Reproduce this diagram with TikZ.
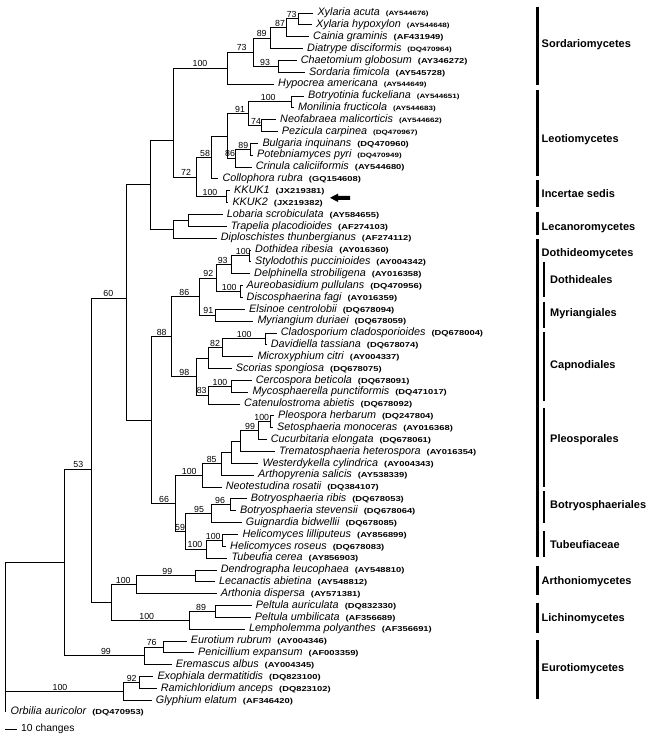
\documentclass[tikz,border=0pt]{standalone}
\usepackage{fontspec}
\setmainfont{Liberation Sans}
\newfontfamily\accfont{Liberation Sans}[FakeStretch=1.3]
\usetikzlibrary{positioning}
\newcommand\accno[1]{{\upshape\accfont\bfseries\fontsize{7.2}{8}\selectfont#1}}
\newcommand\accsm[1]{{\upshape\accfont\bfseries\fontsize{6.2}{7}\selectfont#1}}

\begin{document}
\begin{tikzpicture}[x=1pt,y=-1pt,
  br/.style={line width=0.9pt},
  leaf/.style={anchor=west,inner xsep=4pt,inner ysep=0pt,text height=8pt,text depth=2.5pt,font=\fontsize{10.8}{12}\selectfont\itshape},
  bs/.style={anchor=south,inner xsep=0pt,inner ysep=1pt,font=\fontsize{8.8}{10}\selectfont},
  grp/.style={line width=2.6pt},
  cls/.style={anchor=west,inner sep=0pt,font=\fontsize{11}{12}\selectfont\bfseries}]
\useasboundingbox (0,0) rectangle (651,739);

% leaves
\node[leaf] (l1) at (313.3,13) {Xylaria acuta\hspace{6pt}\accsm{(AY544676)}};
\node[leaf] (l2) at (312,24.85) {Xylaria hypoxylon\hspace{6pt}\accsm{(AY544648)}};
\node[leaf] (l3) at (309,36.7) {Cainia graminis\hspace{6pt}\accno{(AF431949)}};
\node[leaf] (l4) at (303,48.55) {Diatrype disciformis\hspace{6pt}\accsm{(DQ470964)}};
\node[leaf] (l5) at (296.7,60.4) {Chaetomium globosum\hspace{6pt}\accno{(AY346272)}};
\node[leaf] (l6) at (305,72.25) {Sordaria fimicola\hspace{6pt}\accno{(AY545728)}};
\node[leaf] (l7) at (274,84.1) {Hypocrea americana\hspace{6pt}\accsm{(AY544649)}};
\node[leaf] (l8) at (304,95.95) {Botryotinia fuckeliana\hspace{6pt}\accsm{(AY544651)}};
\node[leaf] (l9) at (294,107.8) {Monilinia fructicola\hspace{6pt}\accsm{(AY544683)}};
\node[leaf] (l10) at (276,119.65) {Neofabraea malicorticis\hspace{6pt}\accsm{(AY544662)}};
\node[leaf] (l11) at (277.7,131.5) {Pezicula carpinea\hspace{6pt}\accsm{(DQ470967)}};
\node[leaf] (l12) at (258.3,143.35) {Bulgaria inquinans\hspace{6pt}\accno{(DQ470960)}};
\node[leaf] (l13) at (253,155.2) {Potebniamyces pyri\hspace{6pt}\accsm{(DQ470949)}};
\node[leaf] (l14) at (251.7,167.05) {Crinula caliciiformis\hspace{6pt}\accno{(AY544680)}};
\node[leaf] (l15) at (218.3,178.9) {Collophora rubra\hspace{6pt}\accno{(GQ154608)}};
\node[leaf] (l16) at (230,190.75) {KKUK1\hspace{6pt}\accno{(JX219381)}};
\node[leaf] (l17) at (228.3,202.6) {KKUK2\hspace{6pt}\accno{(JX219382)}};
\node[leaf] (l18) at (222.7,214.45) {Lobaria scrobiculata\hspace{6pt}\accno{(AY584655)}};
\node[leaf] (l19) at (226.7,226.3) {Trapelia placodioides\hspace{6pt}\accno{(AF274103)}};
\node[leaf] (l20) at (216.7,238.15) {Diploschistes thunbergianus\hspace{6pt}\accno{(AF274112)}};
\node[leaf] (l21) at (251,250) {Dothidea ribesia\hspace{6pt}\accno{(AY016360)}};
\node[leaf] (l22) at (251,261.85) {Stylodothis puccinioides\hspace{6pt}\accno{(AY004342)}};
\node[leaf] (l23) at (250,273.7) {Delphinella strobiligena\hspace{6pt}\accno{(AY016358)}};
\node[leaf] (l24) at (242.5,285.55) {Aureobasidium pullulans\hspace{6pt}\accno{(DQ470956)}};
\node[leaf] (l25) at (242.5,297.4) {Discosphaerina fagi\hspace{6pt}\accno{(AY016359)}};
\node[leaf] (l26) at (245,309.25) {Elsinoe centrolobii\hspace{6pt}\accno{(DQ678094)}};
\node[leaf] (l27) at (253.3,321.1) {Myriangium duriaei\hspace{6pt}\accno{(DQ678059)}};
\node[leaf] (l28) at (276.7,332.95) {Cladosporium cladosporioides\hspace{6pt}\accno{(DQ678004)}};
\node[leaf] (l29) at (266.7,344.8) {Davidiella tassiana\hspace{6pt}\accno{(DQ678074)}};
\node[leaf] (l30) at (253.3,356.65) {Microxyphium citri\hspace{6pt}\accno{(AY004337)}};
\node[leaf] (l31) at (231.7,368.5) {Scorias spongiosa\hspace{6pt}\accno{(DQ678075)}};
\node[leaf] (l32) at (251.7,380.35) {Cercospora beticola\hspace{6pt}\accno{(DQ678091)}};
\node[leaf] (l33) at (248.3,392.2) {Mycosphaerella punctiformis\hspace{6pt}\accno{(DQ471017)}};
\node[leaf] (l34) at (240,404.05) {Catenulostroma abietis\hspace{6pt}\accno{(DQ678092)}};
\node[leaf] (l35) at (274,415.9) {Pleospora herbarum\hspace{6pt}\accno{(DQ247804)}};
\node[leaf] (l36) at (273,427.75) {Setosphaeria monoceras\hspace{6pt}\accno{(AY016368)}};
\node[leaf] (l37) at (266.7,439.6) {Cucurbitaria elongata\hspace{6pt}\accno{(DQ678061)}};
\node[leaf] (l38) at (275,451.45) {Trematosphaeria heterospora\hspace{6pt}\accno{(AY016354)}};
\node[leaf] (l39) at (258.3,463.3) {Westerdykella cylindrica\hspace{6pt}\accno{(AY004343)}};
\node[leaf] (l40) at (254,475.15) {Arthopyrenia salicis\hspace{6pt}\accno{(AY538339)}};
\node[leaf] (l41) at (221.7,487) {Neotestudina rosatii\hspace{6pt}\accno{(DQ384107)}};
\node[leaf] (l42) at (246.7,498.85) {Botryosphaeria ribis\hspace{6pt}\accno{(DQ678053)}};
\node[leaf] (l43) at (236,510.7) {Botryosphaeria stevensii\hspace{6pt}\accno{(DQ678064)}};
\node[leaf] (l44) at (241.7,522.55) {Guignardia bidwellii\hspace{6pt}\accno{(DQ678085)}};
\node[leaf] (l45) at (238.3,534.4) {Helicomyces lilliputeus\hspace{6pt}\accno{(AY856899)}};
\node[leaf] (l46) at (226,546.25) {Helicomyces roseus\hspace{6pt}\accno{(DQ678083)}};
\node[leaf] (l47) at (227.3,558.1) {Tubeufia cerea\hspace{6pt}\accno{(AY856903)}};
\node[leaf] (l48) at (216.7,569.95) {Dendrographa leucophaea\hspace{6pt}\accno{(AY548810)}};
\node[leaf] (l49) at (215,581.8) {Lecanactis abietina\hspace{6pt}\accno{(AY548812)}};
\node[leaf] (l50) at (216.7,593.65) {Arthonia dispersa\hspace{6pt}\accno{(AY571381)}};
\node[leaf] (l51) at (251.7,605.5) {Peltula auriculata\hspace{6pt}\accno{(DQ832330)}};
\node[leaf] (l52) at (250.7,617.35) {Peltula umbilicata\hspace{6pt}\accno{(AF356689)}};
\node[leaf] (l53) at (245,629.2) {Lempholemma polyanthes\hspace{6pt}\accno{(AF356691)}};
\node[leaf] (l54) at (186.7,641.05) {Eurotium rubrum\hspace{6pt}\accno{(AY004346)}};
\node[leaf] (l55) at (194,652.9) {Penicillium expansum\hspace{6pt}\accno{(AF003359)}};
\node[leaf] (l56) at (171.7,664.75) {Eremascus albus\hspace{6pt}\accno{(AY004345)}};
\node[leaf] (l57) at (153.3,676.6) {Exophiala dermatitidis\hspace{6pt}\accno{(DQ823100)}};
\node[leaf] (l58) at (156.7,688.45) {Ramichloridium anceps\hspace{6pt}\accno{(DQ823102)}};
\node[leaf] (l59) at (151.7,700.3) {Glyphium elatum\hspace{6pt}\accno{(AF346420)}};
\node[leaf,inner xsep=5.5pt] (l60) at (5,712.15) {Orbilia auricolor\hspace{6pt}\accno{(DQ470953)}};

% internal nodes
\coordinate (nXy) at (298.3,18.9);
\coordinate (n87) at (286.7,27.8);
\coordinate (n89) at (270.7,38.2);
\coordinate (n93) at (278.3,66.3);
\coordinate (nS73) at (253.3,52.25);
\coordinate (nSord) at (227.7,68.2);
\coordinate (nBM) at (291.7,101.9);
\coordinate (n74) at (261.7,125.6);
\coordinate (n91) at (248.3,113.7);
\coordinate (n89b) at (250,149.3);
\coordinate (n86) at (235,158.2);
\coordinate (nL1) at (227.7,136);
\coordinate (n58) at (211.7,157.4);
\coordinate (nKK) at (226.7,196.7);
\coordinate (n72) at (196,177);
\coordinate (nA) at (173.3,140);
\coordinate (nLT) at (188.3,220.4);
\coordinate (nLec) at (173.3,229.3);
\coordinate (n150) at (150.7,184.6);
\coordinate (nDS) at (249,255.9);
\coordinate (n93d) at (231.7,264.8);
\coordinate (nAD) at (240.7,291.5);
\coordinate (n92) at (216,278.1);
\coordinate (n91d) at (215,315.2);
\coordinate (n86d) at (199.3,296.6);
\coordinate (nCD) at (265,338.9);
\coordinate (n82) at (222.7,347.8);
\coordinate (nCap) at (208.3,358.1);
\coordinate (nCM) at (231.7,386.3);
\coordinate (n83) at (208.3,395.2);
\coordinate (n98) at (196.7,376.6);
\coordinate (n88) at (171.7,336.6);
\coordinate (nPS) at (270,421.8);
\coordinate (n99) at (258.3,430.7);
\coordinate (nP1) at (240.7,441.1);
\coordinate (nP2) at (231.7,452.2);
\coordinate (n85) at (221.7,463.7);
\coordinate (nPle) at (202.3,475.3);
\coordinate (n96) at (230.7,504.8);
\coordinate (n95) at (211.7,513.7);
\coordinate (nH) at (222.7,540.3);
\coordinate (nT) at (206.7,549.2);
\coordinate (n59) at (185.7,531.5);
\coordinate (n66) at (175,503.4);
\coordinate (nDoth) at (151.7,420);
\coordinate (n60) at (126,298);
\coordinate (n99A) at (195.7,575.9);
\coordinate (nArt) at (136.7,584.8);
\coordinate (n89L) at (215.7,611.4);
\coordinate (nLic) at (189,620.3);
\coordinate (nAL) at (111.7,602.5);
\coordinate (n53) at (91.7,469);
\coordinate (n76) at (163.3,647);
\coordinate (nEur) at (144,655.9);
\coordinate (nB) at (64.3,562.5);
\coordinate (n92c) at (139.3,682.5);
\coordinate (nChae) at (123.3,691.4);
\coordinate (root) at (5,562.5);

% branches
\draw[br] (nXy) |- (l1.west) (nXy) |- (l2.west);
\draw[br] (n87) |- (nXy) (n87) |- (l3.west);
\draw[br] (n89) |- (n87) (n89) |- (l4.west);
\draw[br] (n93) |- (l5.west) (n93) |- (l6.west);
\draw[br] (nS73) |- (n89) (nS73) |- (n93);
\draw[br] (nSord) |- (nS73) (nSord) |- (l7.west);
\draw[br] (nBM) |- (l8.west) (nBM) |- (l9.west);
\draw[br] (n74) |- (l10.west) (n74) |- (l11.west);
\draw[br] (n91) |- (nBM) (n91) |- (n74);
\draw[br] (n89b) |- (l12.west) (n89b) |- (l13.west);
\draw[br] (n86) |- (n89b) (n86) |- (l14.west);
\draw[br] (nL1) |- (n91) (nL1) |- (n86);
\draw[br] (n58) |- (nL1) (n58) |- (l15.west);
\draw[br] (nKK) |- (l16.west) (nKK) |- (l17.west);
\draw[br] (n72) |- (n58) (n72) |- (nKK);
\draw[br] (nA) |- (nSord) (nA) |- (n72);
\draw[br] (nLT) |- (l18.west) (nLT) |- (l19.west);
\draw[br] (nLec) |- (nLT) (nLec) |- (l20.west);
\draw[br] (n150) |- (nA) (n150) |- (nLec);
\draw[br] (nDS) |- (l21.west) (nDS) |- (l22.west);
\draw[br] (n93d) |- (nDS) (n93d) |- (l23.west);
\draw[br] (nAD) |- (l24.west) (nAD) |- (l25.west);
\draw[br] (n92) |- (n93d) (n92) |- (nAD);
\draw[br] (n91d) |- (l26.west) (n91d) |- (l27.west);
\draw[br] (n86d) |- (n92) (n86d) |- (n91d);
\draw[br] (nCD) |- (l28.west) (nCD) |- (l29.west);
\draw[br] (n82) |- (nCD) (n82) |- (l30.west);
\draw[br] (nCap) |- (n82) (nCap) |- (l31.west);
\draw[br] (nCM) |- (l32.west) (nCM) |- (l33.west);
\draw[br] (n83) |- (nCM) (n83) |- (l34.west);
\draw[br] (n98) |- (nCap) (n98) |- (n83);
\draw[br] (n88) |- (n86d) (n88) |- (n98);
\draw[br] (nPS) |- (l35.west) (nPS) |- (l36.west);
\draw[br] (n99) |- (nPS) (n99) |- (l37.west);
\draw[br] (nP1) |- (n99) (nP1) |- (l38.west);
\draw[br] (nP2) |- (nP1) (nP2) |- (l39.west);
\draw[br] (n85) |- (nP2) (n85) |- (l40.west);
\draw[br] (nPle) |- (n85) (nPle) |- (l41.west);
\draw[br] (n96) |- (l42.west) (n96) |- (l43.west);
\draw[br] (n95) |- (n96) (n95) |- (l44.west);
\draw[br] (nH) |- (l45.west) (nH) |- (l46.west);
\draw[br] (nT) |- (nH) (nT) |- (l47.west);
\draw[br] (n59) |- (n95) (n59) |- (nT);
\draw[br] (n66) |- (nPle) (n66) |- (n59);
\draw[br] (nDoth) |- (n88) (nDoth) |- (n66);
\draw[br] (n60) |- (n150) (n60) |- (nDoth);
\draw[br] (n99A) |- (l48.west) (n99A) |- (l49.west);
\draw[br] (nArt) |- (n99A) (nArt) |- (l50.west);
\draw[br] (n89L) |- (l51.west) (n89L) |- (l52.west);
\draw[br] (nLic) |- (n89L) (nLic) |- (l53.west);
\draw[br] (nAL) |- (nArt) (nAL) |- (nLic);
\draw[br] (n53) |- (n60) (n53) |- (nAL);
\draw[br] (n76) |- (l54.west) (n76) |- (l55.west);
\draw[br] (nEur) |- (n76) (nEur) |- (l56.west);
\draw[br] (nB) |- (n53) (nB) |- (nEur);
\draw[br] (n92c) |- (l57.west) (n92c) |- (l58.west);
\draw[br] (nChae) |- (n92c) (nChae) |- (l59.west);
\draw[br] (root) -- (nB) (root) |- (nChae) (root) |- (l60.west);

% bootstrap values
\node[bs] (b1) at (291.7,18.9) {73};
\node[bs] (b2) at (280,27.8) {87};
\node[bs] (b3) at (261.7,38.2) {89};
\node[bs] (b4) at (241.7,52.25) {73};
\node[bs] (b5) at (265,66.3) {93};
\node[bs] (b6) at (200,68.2) {100};
\node[bs] (b7) at (268.3,101.9) {100};
\node[bs] (b8) at (240,113.7) {91};
\node[bs] (b9) at (256,125.6) {74};
\node[bs] (b10) at (243.3,149.3) {89};
\node[bs] (b11) at (230,158.2) {86};
\node[bs] (b12) at (205,157.4) {58};
\node[bs] (b13) at (186,177) {72};
\node[bs] (b14) at (210,196.7) {100};
\node[bs] (b15) at (108.3,298) {60};
\node[bs] (b16) at (243.3,255.9) {100};
\node[bs] (b17) at (222.7,264.8) {93};
\node[bs] (b18) at (208.3,278.1) {92};
\node[bs] (b19) at (229.3,291.5) {100};
\node[bs] (b20) at (184.3,296.6) {86};
\node[bs] (b21) at (208.3,315.2) {91};
\node[bs] (b22) at (161.7,336.6) {88};
\node[bs] (b23) at (244.3,338.9) {100};
\node[bs] (b24) at (215,347.8) {82};
\node[bs] (b25) at (184.3,376.6) {98};
\node[bs] (b26) at (220,386.3) {100};
\node[bs] (b27) at (201.7,395.2) {83};
\node[bs] (b28) at (261.7,421.8) {100};
\node[bs] (b29) at (250,430.7) {99};
\node[bs] (b30) at (211.7,463.7) {85};
\node[bs] (b31) at (189.3,475.3) {100};
\node[bs] (b32) at (78.3,469) {53};
\node[bs] (b33) at (164,503.4) {66};
\node[bs] (b34) at (220,504.8) {96};
\node[bs] (b35) at (199,513.7) {95};
\node[bs] (b36) at (180,531.5) {59};
\node[bs] (b37) at (213.3,540.3) {100};
\node[bs] (b38) at (195,549.2) {100};
\node[bs] (b39) at (167.3,575.9) {99};
\node[bs] (b40) at (123.3,584.8) {100};
\node[bs] (b41) at (201,611.4) {89};
\node[bs] (b42) at (146.7,620.3) {100};
\node[bs] (b43) at (151.7,647) {76};
\node[bs] (b44) at (106,655.9) {99};
\node[bs] (b45) at (131.7,682.5) {92};
\node[bs] (b46) at (60,691.4) {100};

% arrow at the new isolates
\fill (330,197.8) -- (338,193.6) -- (338,195.8) -- (350,195.8) -- (350,199.8) -- (338,199.8) -- (338,202) -- cycle;

% groups
\draw[grp] (537.7,6.7) -- (537.7,85);
\node[cls] (g1) at (541.5,45) {Sordariomycetes};
\draw[grp] (537.7,90) -- (537.7,176);
\node[cls] (g2) at (541.5,140) {Leotiomycetes};
\draw[grp] (537.7,180) -- (537.7,207.3);
\node[cls] (g3) at (541.5,194) {Incertae sedis};
\draw[grp] (537.7,211.7) -- (537.7,235);
\node[cls] (g4) at (541.5,227.7) {Lecanoromycetes};
\draw[grp] (537.7,239) -- (537.7,556.7);
\node[cls] (g5) at (541.5,254) {Dothideomycetes};
\draw[grp] (544,261.7) -- (544,296.7);
\node[cls] (g6) at (550,280) {Dothideales};
\draw[grp] (544,301.7) -- (544,328.3);
\node[cls] (g7) at (550,313.3) {Myriangiales};
\draw[grp] (544,331.7) -- (544,400.7);
\node[cls] (g8) at (550,366) {Capnodiales};
\draw[grp] (544,408.3) -- (544,486.7);
\node[cls] (g9) at (550,440) {Pleosporales};
\draw[grp] (544,490.7) -- (544,523.3);
\node[cls] (g10) at (550,505.7) {Botryosphaeriales};
\draw[grp] (544,530.7) -- (544,556.7);
\node[cls] (g11) at (550,545) {Tubeufiaceae};
\draw[grp] (537.7,566) -- (537.7,595);
\node[cls] (g12) at (541.5,581.7) {Arthoniomycetes};
\draw[grp] (537.7,602.7) -- (537.7,632.7);
\node[cls] (g13) at (541.5,618.3) {Lichinomycetes};
\draw[grp] (537.7,640) -- (537.7,699.3);
\node[cls] (g14) at (541.5,668.3) {Eurotiomycetes};

% scale
\coordinate (s0) at (5,729);
\node[anchor=west,inner sep=0pt,font=\fontsize{10.3}{12}\selectfont] (sc) at (21,729) {10 changes};
\draw[line width=1pt] (s0) -- ++(11.7,0);
\end{tikzpicture}
\end{document}
